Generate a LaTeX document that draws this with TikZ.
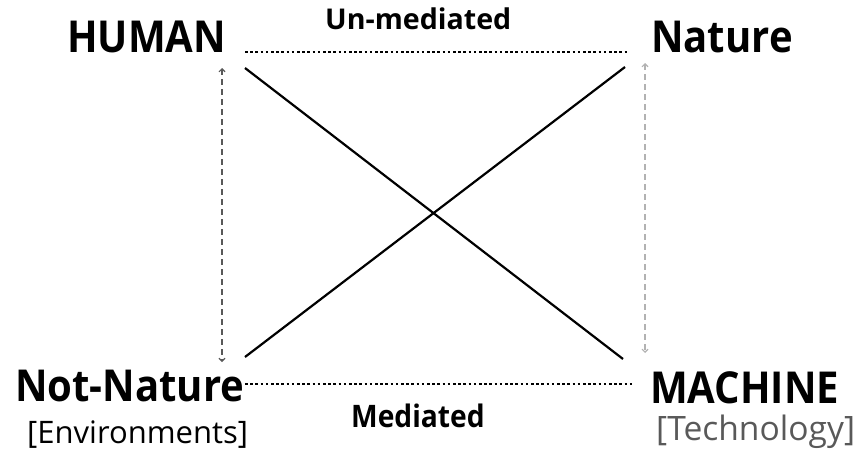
\documentclass[tikz,border=0pt]{standalone}
\usepackage{fontspec}
\setmainfont{Open Sans}
\newfontfamily\narrowfont{Open Sans}[FakeStretch=0.91]
\usetikzlibrary{arrows.meta,positioning}

\begin{document}
\begin{tikzpicture}[x=1pt, y=-1pt,
    term/.style={anchor=base west, inner sep=0pt, font=\narrowfont\fontsize{44}{48}\selectfont\bfseries},
    sub/.style={anchor=base west, inner sep=0pt, font=\fontsize{31}{36}\selectfont},
    tag/.style={anchor=base west, inner sep=0pt, font=\fontsize{28.6}{32}\selectfont\bfseries},
    dotline/.style={line width=2.5pt, dash pattern=on 2.6pt off 2.6pt},
    cross/.style={line width=2.2pt},
    darrow/.style={{Straight Barb[length=3pt,width=6pt]}-{Straight Barb[length=3pt,width=6pt]},
                   line width=1.1pt, dash pattern=on 6pt off 4pt}
]
\useasboundingbox (0,0) rectangle (859,455);

% Corners
\node[term] (human) at (67,52) {HUMAN};
\node[term] (nature) at (651,52) {Nature};
\node[term] (notnature) at (15,401) {Not-Nature};
\node[term] (machine) at (650,403) {MACHINE};

% Sub labels
\node[sub] (env) at (27,443) {[Environments]};
\node[sub, text=black!65, font=\fontsize{33.6}{36}\selectfont] (tech) at (656,440) {[Technology]};

% Edge labels
\node[tag] (unmed) at (325,29) {Un-mediated};
\node[tag, font=\narrowfont\fontsize{31}{34}\selectfont\bfseries] (med) at (351,427) {Mediated};

% End points
\coordinate (h-r) at (245,52);
\coordinate (n-l) at (628,52);
\coordinate (nn-r) at (245,384);
\coordinate (m-l) at (632,384);
\coordinate (h-x) at (245,68);
\coordinate (m-x) at (623,359);
\coordinate (nn-x) at (245,357);
\coordinate (n-x) at (625,67);
\coordinate (h-d) at (222,68);
\coordinate (nn-d) at (222,362);
\coordinate (n-d) at (645,63);
\coordinate (m-d) at (645,353);

% Lines
\draw[dotline] (h-r) -- (n-l);
\draw[dotline] (nn-r) -- (m-l);
\draw[cross] (h-x) -- (m-x);
\draw[cross] (nn-x) -- (n-x);
\draw[darrow, draw=black!65] (h-d) -- (nn-d);
\draw[darrow, draw=black!30] (n-d) -- (m-d);

\end{tikzpicture}
\end{document}
